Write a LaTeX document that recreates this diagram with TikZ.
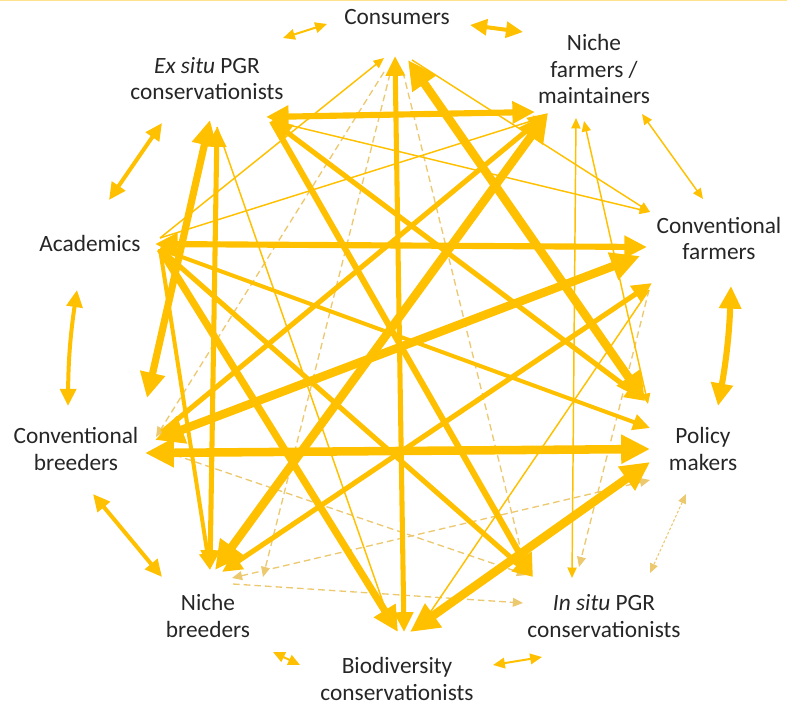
\documentclass[tikz,border=0pt]{standalone}
\usepackage{fontspec}
\setmainfont{Carlito}
\usetikzlibrary{arrows.meta}
\definecolor{gold}{HTML}{FFC000}
\definecolor{palegold}{RGB}{236,200,110}
\definecolor{txt}{HTML}{262626}
\begin{document}
\begin{tikzpicture}[x=0.75pt,y=-0.75pt,
  >={Triangle[length=5pt 2.6,width=4pt 2.6]},
  edge/.style={draw=gold},
  w0/.style={edge,line width=1.1pt},
  w1/.style={edge,line width=1.5pt},
  w2/.style={edge,line width=3pt},
  w3/.style={edge,line width=3.8pt},
  w4/.style={edge,line width=4.6pt},
  w5/.style={edge,line width=5.4pt},
  w6/.style={edge,line width=6.4pt},
  dsh/.style={draw=palegold,line width=1pt,dash pattern=on 5pt off 3pt},
  lbl/.style={font=\fontsize{17.5pt}{20pt}\selectfont,text=txt,align=center,inner sep=0pt,anchor=base}]
\useasboundingbox (0,0) rectangle (787,705);
\draw[gold!45,line width=1pt] (0,0.7) -- (787,0.7);

% ---------- labels (anchor = baseline of last line) ----------
\node[lbl] (cons) at (397,25) {Consumers};
\node[lbl] (exs)  at (207,100) {\textit{Ex situ} PGR\\conservationists};
\node[lbl] (nfm)  at (594,104) {Niche\\farmers /\\maintainers};
\node[lbl] (cvf)  at (719,260) {Conventional\\farmers};
\node[lbl] (pol)  at (703,470) {Policy\\makers};
\node[lbl] (ins)  at (604,637) {\textit{In situ} PGR\\conservationists};
\node[lbl] (bio)  at (397,700) {Biodiversity\\conservationists};
\node[lbl] (nbr)  at (208,637) {Niche\\breeders};
\node[lbl] (cvb)  at (76,470) {Conventional\\breeders};
\node[lbl] (aca)  at (90,252) {Academics};

% ---------- hub points ----------
% Consumers
\coordinate (cA) at (395,56);
\coordinate (cB) at (408,60);
\coordinate (cC) at (384,58);
\coordinate (cD) at (412,60);
\coordinate (cE) at (384,72);
\coordinate (cF) at (390,74);
\coordinate (cG) at (403,72);
% Niche farmers
\coordinate (nA) at (535,112);
\coordinate (nB) at (548,113);
\coordinate (nC) at (544,117);
\coordinate (nD) at (576,118);
\coordinate (nE) at (584,121);
% Conventional farmers
\coordinate (fA) at (647,247);
\coordinate (fB) at (640,256);
\coordinate (fC) at (650,212);
\coordinate (fD) at (652,283);
\coordinate (fE) at (649,290);
% Policy makers
\coordinate (pA) at (645,401);
\coordinate (pF) at (648,404);
\coordinate (pB) at (650,428);
\coordinate (pC) at (650,449);
\coordinate (pD) at (650,462);
\coordinate (pE) at (650,480);
% In situ
\coordinate (iA) at (533,577);
\coordinate (iB) at (527,575);
\coordinate (iC) at (572,578);
\coordinate (iD) at (579,567);
\coordinate (iE) at (523,603);
% Biodiversity
\coordinate (bA) at (404,632);
\coordinate (bB) at (398,632);
\coordinate (bC) at (392,628);
\coordinate (bD) at (410,632);
\coordinate (bE) at (425,620);
% Niche breeders
\coordinate (kA) at (210,570);
\coordinate (kB) at (215,570);
\coordinate (kC) at (222,572);
\coordinate (kD) at (263,577);
\coordinate (kE) at (233,584);
\coordinate (kF) at (232,578);
% Conventional breeders
\coordinate (qA) at (147,398);
\coordinate (qB) at (155,440);
\coordinate (qC) at (145,453);
\coordinate (qD) at (162,432);
\coordinate (qE) at (175,455);
\coordinate (qF) at (156,437);
% Academics
\coordinate (aA) at (155,244);
\coordinate (aB) at (160,249);
\coordinate (aC) at (160,238);
% Ex situ
\coordinate (eA) at (210,120);
\coordinate (eB) at (217,127);
\coordinate (eC) at (266,117);
\coordinate (eD) at (272,121);

% ---------- outer ring ----------
\coordinate (r1a) at (283,38);  \coordinate (r1b) at (327,24);
\coordinate (r2a) at (470,25);  \coordinate (r2b) at (523,32);
\coordinate (r3a) at (642,114); \coordinate (r3b) at (703,199);
\coordinate (r4a) at (731,286); \coordinate (r4b) at (718,406);
\coordinate (r5a) at (686,494); \coordinate (r5b) at (650,573);
\coordinate (r6a) at (493,665); \coordinate (r6b) at (542,657);
\coordinate (r7a) at (273,652); \coordinate (r7b) at (300,665);
\coordinate (r8a) at (93,494);  \coordinate (r8b) at (162,577);
\coordinate (r9a) at (77,290);  \coordinate (r9b) at (68,406);
\coordinate (r0a) at (109,200); \coordinate (r0b) at (162,123);

\draw[w1,<->] (r1a) -- (r1b);
\draw[w2,<->] (r2a) -- (r2b);
\draw[w0,<->] (r3a) -- (r3b);
\draw[w4,<->] (r4a) to[bend left=4] (r4b);
\draw[dsh,<->,dash pattern=on 2pt off 1.5pt,line width=0.8pt] (r5a) -- (r5b);
\draw[w1,<->] (r6a) -- (r6b);
\draw[w1,<->] (r7a) -- (r7b);
\draw[w2,<->] (r8a) -- (r8b);
\draw[w2,<->] (r9a) to[bend right=4] (r9b);
\draw[w2,<->] (r0a) -- (r0b);

% ---------- dashed links ----------
\draw[dsh,->] (cE) -- (qF);
\draw[dsh,->] (cF) -- (kD);
\draw[dsh,->] (cG) -- (iB);
\draw[dsh,->] (qE) -- (iB);
\draw[dsh,->] (kE) -- (iE);
\draw[dsh,<->] (kF) -- (pE);
\draw[dsh,->] (fE) -- (iD);

% ---------- thin links ----------
\draw[w0,->] (aC) -- (cC);
\draw[w0,->] (aC) -- (nC);
\draw[w0,->] (cD) -- (fC);
\draw[w0,->] (eD) -- (fC);
\draw[w0,->] (eB) -- (bC);
\draw[w0,->] (fE) -- (bE);
\draw[w0,<->] (nD) -- (iC);
\draw[w0,<->] (nE) -- (pF);

% ---------- medium / thick links ----------
\draw[w2,->] (aB) -- (kA);
\draw[w2,->] (aB) -- (pB);
\draw[w3,->] (aB) -- (iA);
\draw[w3,<->] (eB) -- (kA);
\draw[w3,<->] (eD) -- (pA);
\draw[w3,->] (qD) -- (nB);
\draw[w3,<->] (kC) -- (fD);
\draw[w4,->] (eD) -- (iA);
\draw[w4,<->] (eC) -- (nA);
\draw[w4,<->] (aA) -- (fA);
\draw[w3,<->] (cA) -- (bA);
\draw[w5,->] (aB) -- (bB);
\draw[w5,<->] (eA) -- (qA);
\draw[w6,<->] (cB) -- (pA);
\draw[w6,<->] (pD) -- (bD);
\draw[w6,<->] (qC) -- (pC);
\draw[w6,<->] (qB) -- (fB);
\draw[w6,<->] (kB) -- (nB);
\end{tikzpicture}
\end{document}
